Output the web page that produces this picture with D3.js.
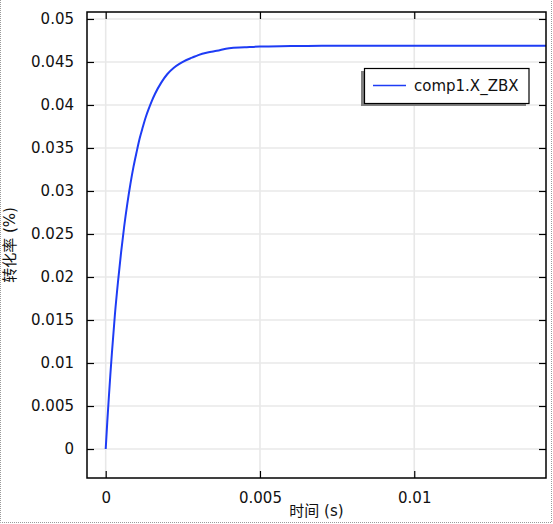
<!DOCTYPE html>
<html><head><meta charset="utf-8">
<script src="https://cdn.jsdelivr.net/npm/d3@7"></script>
<style>
html,body{margin:0;padding:0;background:#fff;}
svg{display:block;}
text{font-family:"DejaVu Sans",sans-serif;}
</style></head>
<body>
<svg id="chart" width="553" height="524"></svg>
<script>
// Data
const timeValues = [0, 0.00005, 0.0001, 0.00015, 0.0002, 0.0003, 0.0004, 0.0005, 0.0006, 0.0007, 0.0008, 0.0009, 0.0010,
  0.0011, 0.0012, 0.0013, 0.0014, 0.0015, 0.0016, 0.0018, 0.0020, 0.0022, 0.0024, 0.0026, 0.0028, 0.0030,
  0.0033, 0.0036, 0.0040, 0.0045, 0.0050, 0.0060, 0.0070, 0.0085, 0.0100, 0.0120, 0.0143];
const conversionValues = [0, 0.0031, 0.0059, 0.0086, 0.0111, 0.0157, 0.0195, 0.0229, 0.0259, 0.0285, 0.0308, 0.0328, 0.0345,
  0.0361, 0.0374, 0.0386, 0.0396, 0.0405, 0.0413, 0.0426, 0.0436, 0.0443, 0.0448, 0.0452, 0.0455, 0.0458,
  0.0461, 0.0463, 0.0466, 0.0467, 0.0468, 0.04685, 0.0469, 0.0469, 0.0469, 0.0469, 0.0469];
const xTicks = [0, 0.005, 0.01];
const xTickLabels = ["0", "0.005", "0.01"];
const yTicks = [0, 0.005, 0.01, 0.015, 0.02, 0.025, 0.03, 0.035, 0.04, 0.045, 0.05];
const yTickLabels = ["0", "0.005", "0.01", "0.015", "0.02", "0.025", "0.03", "0.035", "0.04", "0.045", "0.05"];
const seriesName = "comp1.X_ZBX";
const xTitle = "时间 (s)";
const yTitle = "转化率 (%)";

const svg = d3.select("#chart");
const L = 87, R = 546, T = 12, B = 478;
const x = d3.scaleLinear().domain([-0.000606, 0.01427]).range([L, R]);
const y = d3.scaleLinear().domain([-0.00337, 0.05081]).range([B, T]);

// outer dotted border
svg.append("path").attr("d", `M0.5,0 V522.5 H551.5 V0`)
  .attr("fill", "none").attr("stroke", "#9a9a9a").attr("stroke-width", 1).attr("stroke-dasharray", "1,1");

const clip = svg.append("defs").append("clipPath").attr("id", "clip");
clip.append("rect").attr("x", L).attr("y", T).attr("width", R - L).attr("height", B - T);

// grid
const grid = svg.append("g");
grid.selectAll(".gx").data(xTicks).enter().append("line")
  .attr("x1", d => x(d)).attr("x2", d => x(d)).attr("y1", T).attr("y2", B)
  .attr("stroke", "#e8e8e8").attr("stroke-width", 1.6);
grid.selectAll(".gy").data(yTicks).enter().append("line")
  .attr("y1", d => y(d)).attr("y2", d => y(d)).attr("x1", L).attr("x2", R)
  .attr("stroke", "#e8e8e8").attr("stroke-width", 1.6);

// curve
const data = timeValues.map((t, i) => [t, conversionValues[i]]);
svg.append("path").datum(data)
  .attr("clip-path", "url(#clip)")
  .attr("d", d3.line().x(d => x(d[0])).y(d => y(d[1])).curve(d3.curveMonotoneX))
  .attr("fill", "none").attr("stroke", "#1e3cf5").attr("stroke-width", 2);

// axes (inside ticks on all sides)
const fmtX = (d, i) => xTickLabels[i];
const fmtY = (d, i) => yTickLabels[i];
const axB = svg.append("g").attr("transform", `translate(0,${B})`)
  .call(d3.axisBottom(x).tickValues(xTicks).tickFormat(fmtX).tickSizeInner(-7).tickSizeOuter(0).tickPadding(14));
const axL = svg.append("g").attr("transform", `translate(${L},0)`)
  .call(d3.axisLeft(y).tickValues(yTicks).tickFormat(fmtY).tickSizeInner(-7).tickSizeOuter(0).tickPadding(13));
const axT = svg.append("g").attr("transform", `translate(0,${T})`)
  .call(d3.axisTop(x).tickValues(xTicks).tickFormat("").tickSizeInner(-7).tickSizeOuter(0));
const axR = svg.append("g").attr("transform", `translate(${R},0)`)
  .call(d3.axisRight(y).tickValues(yTicks).tickFormat("").tickSizeInner(-7).tickSizeOuter(0));
[axB, axL, axT, axR].forEach(a => {
  a.select(".domain").remove();
  a.selectAll(".tick line").attr("stroke", "#000").attr("stroke-width", 1.2);
  a.selectAll("text").attr("font-family", "DejaVu Sans").attr("font-size", 15).attr("fill", "#111");
});

// frame
svg.append("rect").attr("x", L).attr("y", T).attr("width", R - L).attr("height", B - T)
  .attr("fill", "none").attr("stroke", "#000").attr("stroke-width", 1.5);

// axis titles
svg.append("text").attr("x", (L + R) / 2).attr("y", 516).attr("text-anchor", "middle")
  .attr("font-size", 15).attr("fill", "#111")
  .style("font-family", "'DejaVu Sans','Noto Sans CJK SC',sans-serif").text(xTitle);
svg.append("text").attr("transform", `translate(15,${(T + B) / 2}) rotate(-90)`).attr("text-anchor", "middle")
  .attr("font-size", 15).attr("fill", "#111")
  .style("font-family", "'DejaVu Sans','Noto Sans CJK SC',sans-serif").text(yTitle);

// legend
const lg = svg.append("g");
lg.append("rect").attr("x", 361).attr("y", 71).attr("width", 165).attr("height", 35).attr("fill", "#808080");
lg.append("rect").attr("x", 364.5).attr("y", 68.5).attr("width", 164.5).attr("height", 35)
  .attr("fill", "#fff").attr("stroke", "#000").attr("stroke-width", 1.2);
lg.append("line").attr("x1", 373).attr("x2", 406).attr("y1", 85.5).attr("y2", 85.5)
  .attr("stroke", "#1e3cf5").attr("stroke-width", 1.5);
lg.append("text").attr("x", 414).attr("y", 90.5).attr("font-size", 15).attr("fill", "#111").text(seriesName);
</script>
</body></html>
